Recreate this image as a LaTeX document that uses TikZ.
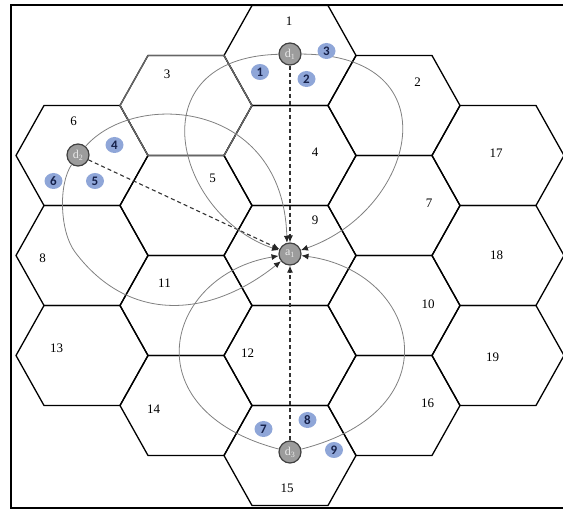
\documentclass[tikz,border=0pt]{standalone}
\usepackage{fontspec}
\setmainfont{Liberation Serif}
\newfontfamily\numfont{Carlito}
\usetikzlibrary{arrows.meta,shapes.geometric}

\definecolor{userblue}{HTML}{8FA6D8}
\definecolor{usertext}{HTML}{16214A}
\definecolor{devgray}{HTML}{9C9C9C}

\begin{document}
\begin{tikzpicture}[
        x=1pt,
        y=-1pt,
        cell/.style={
            draw=black,
            line width=1.3pt,
            line join=miter
        },
        cellnum/.style={
            inner sep=0pt,
            font=\fontsize{13}{15}\selectfont
        },
        dev/.style={
            circle,
            draw=black!75,
            fill=devgray,
            line width=1.2pt,
            minimum size=22pt,
            inner sep=0pt,
            text=white!92!black,
            font=\fontsize{12}{12}\selectfont
        },
        user/.style={
            ellipse,
            fill=userblue,
            minimum width=18pt,
            minimum height=16pt,
            inner sep=0pt,
            text=usertext,
            font=\numfont\bfseries\fontsize{13}{13}\selectfont
        },
        link/.style={
            draw=black!80,
            line width=1.1pt,
            dash pattern=on 4pt off 3pt,
            -{Latex[length=7pt,width=6pt,color=black!85]}
        },
        route/.style={
            draw=black!50,
            line width=0.8pt,
            -{Latex[length=7pt,width=6pt,color=black!85]}
        }
    ]

    \useasboundingbox (0,0) rectangle (563,510);

    % Celdas
    \foreach \cx/\cy/\n/\lx/\ly in {
        82/155.5/6/73.5/121.5, 82/255.5/8/42.5/258, 82/355.5/13/56.5/348,
        186/105.5/3/167/74, 186/205.5/5/212.5/178, 186/305.5/11/164.5/283,
        186/405.5/14/153.5/409,
        290/55.5/1/289/21, 290/155.5/4/315/152, 290/255.5/9/315/220.5,
        290/355.5/12/247.5/353, 290/455.5/15/287/488,
        394/105.5/2/417.5/82, 394/205.5/7/429/203, 394/305.5/10/428/304,
        394/405.5/16/427.5/403,
        498/155.5/17/496/153.5, 498/255.5/18/496.5/255.5, 498/355.5/19/492.5/357.5} {
        \draw[cell] (\cx-66,\cy) -- ++(28,-50) -- ++(76,0) -- ++(28,50)
            -- ++(-28,50) -- ++(-76,0) -- cycle;
        \node[cellnum] (c\n) at (\lx,\ly) {\n};
    }

    % Celda 3 en gris
    \draw[cell, draw=black!60] (120,105.5) -- ++(28,-50) -- ++(76,0)
        -- ++(28,50) -- ++(-28,50) -- ++(-76,0) -- cycle;

    % Marco
    \draw[line width=2pt] (11,5) rectangle (566,508);

    % Dispositivos y punto de acceso
    \node[dev] (d1) at (290,54) {d\textsubscript{1}};
    \node[dev] (d2) at (78,155) {d\textsubscript{2}};
    \node[dev] (d3) at (290,452) {d\textsubscript{3}};
    \node[dev] (a1) at (290,254) {a\textsubscript{1}};

    % Enlaces directos
    \draw[link] (d1) -- (a1);
    \draw[link] (d2) -- (a1);
    \draw[link] (d3) -- (a1);

    % Rutas por los usuarios
    \draw[route] (d1) .. controls (135,58) and (175,215) .. (a1);
    \draw[route] (d1) .. controls (455,55) and (415,210) .. (a1);
    \draw[route] (d2) .. controls (135,90) and (283,100) .. (a1.105);
    \draw[route] (d2) .. controls (58,185) and (60,232) .. (75,252)
        .. controls (129,324) and (210,318) .. (a1);
    \draw[route] (d3) .. controls (130,410) and (165,275) .. (a1);
    \draw[route] (d3) .. controls (455,410) and (420,272) .. (a1);

    % Usuarios
    \node[user] (u1) at (260,72) {1};
    \node[user] (u2) at (306.5,79) {2};
    \node[user] (u3) at (326.5,51) {3};
    \node[user] (u4) at (114.5,145) {4};
    \node[user] (u5) at (95,181) {5};
    \node[user] (u6) at (53.5,181) {6};
    \node[user] (u7) at (263.5,429) {7};
    \node[user] (u8) at (307.5,420) {8};
    \node[user] (u9) at (334,450) {9};

\end{tikzpicture}
\end{document}
